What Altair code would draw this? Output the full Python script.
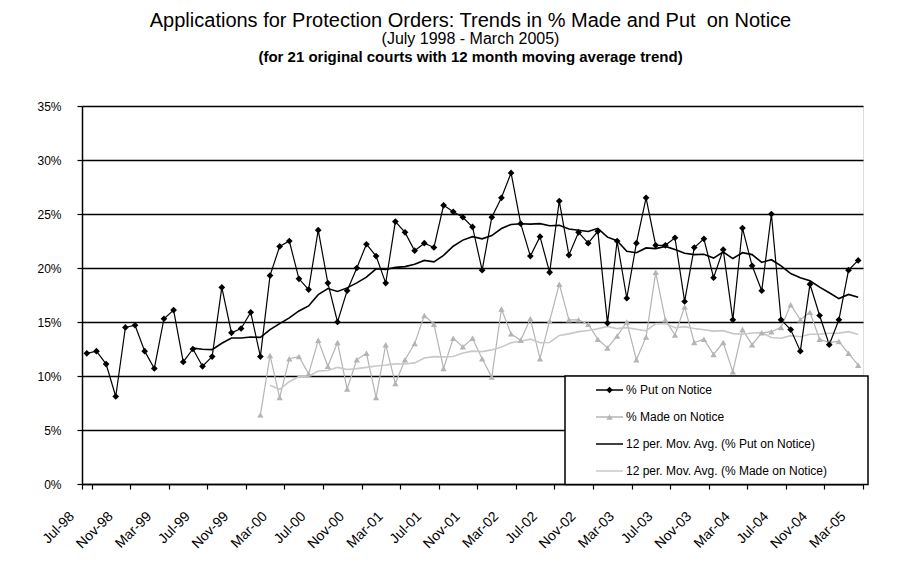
import altair as alt
import pandas as pd

# ---- data -------------------------------------------------------------
months = list(pd.date_range("1998-07-01", periods=81, freq="MS").strftime("%b-%y"))

put_on_notice = [
    12.1, 12.3, 11.1, 8.1, 14.5, 14.7, 12.3, 10.7, 15.3, 16.1, 11.3, 12.5,
    10.9, 11.8, 18.2, 14.0, 14.4, 15.9, 11.8, 19.3, 22.0, 22.5, 19.0, 18.0,
    23.5, 18.6, 15.0, 17.9, 20.0, 22.2, 21.1, 18.6, 24.3, 23.3, 21.6, 22.3,
    21.9, 25.8, 25.2, 24.7, 23.8, 19.8, 24.7, 26.5, 28.8, 24.1, 21.1, 22.9,
    19.6, 26.2, 21.2, 23.3, 22.3, 23.4, 14.9, 22.5, 17.2, 22.3, 26.5, 22.1,
    22.1, 22.8, 16.9, 21.9, 22.7, 19.1, 21.7, 15.2, 23.7, 20.2, 17.9, 25.0,
    15.2, 14.3, 12.3, 18.5, 15.6, 12.9, 15.2, 19.8, 20.7,
]

made_on_notice = [None] * 18 + [
    6.4, 11.9, 8.0, 11.6, 11.8, 10.2,
    13.3, 10.9, 13.1, 8.8, 11.5, 12.1, 8.0, 12.9, 9.3, 11.5, 13.0, 15.6,
    14.8, 10.7, 13.5, 12.7, 13.5, 11.6, 9.9, 16.2, 13.9, 13.3, 15.3, 11.6,
    15.1, 18.5, 15.2, 15.2, 14.8, 13.4, 12.6, 13.7, 15.0, 11.5, 13.6, 19.6,
    15.2, 13.8, 16.4, 13.1, 13.4, 12.0, 13.1, 10.4, 14.3, 12.9, 14.0, 14.1,
    14.5, 16.6, 15.2, 15.9, 13.4, 13.1, 13.2, 12.1, 11.0,
]

y_ticks = [0, 0.05, 0.10, 0.15, 0.20, 0.25, 0.30, 0.35]

legend_labels = [
    "% Put on Notice",
    "% Made on Notice",
    "12 per. Mov. Avg. (% Put on Notice)",
    "12 per. Mov. Avg. (% Made on Notice)",
]

title_lines = [
    "Applications for Protection Orders: Trends in % Made and Put\u00a0 on Notice",
    "(July 1998 - March 2005)",
    "(for 21 original courts with 12 month moving average trend)",
]

df = pd.DataFrame({
    "idx": list(range(len(months))),
    "month": months,
    "put": [v / 100 for v in put_on_notice],
    "made": [None if v is None else v / 100 for v in made_on_notice],
})

legend_df = pd.DataFrame({"row": [0, 1, 2, 3], "label": legend_labels})

# ---- styles -----------------------------------------------------------
FONT = "Liberation Sans"
BLACK = "#000000"
GREY = "#b4b4b4"
GREY_MA = "#c8c8c8"
W, H = 781, 378

x_enc = alt.X(
    "month:N",
    sort=months,
    scale=alt.Scale(type="band", domain=months, paddingInner=0, paddingOuter=0),
    axis=alt.Axis(
        title=None,
        values=months[::4],
        tickBand="extent",
        labelAngle=-45,
        labelAlign="right",
        labelBaseline="top",
        labelFont=FONT,
        labelFontSize=14,
        labelColor="black",
        labelPadding=20,
        labelOffset=-20,
        labelBound=False,
        domainColor="black",
        domainWidth=1.5,
        tickColor="black",
        tickWidth=1.2,
        tickSize=5,
        grid=False,
    ),
)

y_enc = alt.Y(
    "put:Q",
    scale=alt.Scale(domain=[0, 0.35], nice=False, zero=True),
    axis=alt.Axis(
        title=None,
        values=y_ticks,
        format=".0%",
        labelFont=FONT,
        labelFontSize=12,
        labelColor="black",
        labelPadding=16,
        tickSize=5,
        tickColor="black",
        tickWidth=1.2,
        domainColor="black",
        domainWidth=1.5,
        grid=True,
        gridColor="black",
        gridWidth=1.3,
        gridOpacity=1,
    ),
)

y_scale = alt.Scale(domain=[0, 0.35], nice=False, zero=True)

base = alt.Chart(df)

put_line = base.mark_line(color=BLACK, strokeWidth=1.2).encode(x=x_enc, y=y_enc)
put_pts = base.mark_point(shape="diamond", filled=True, color=BLACK, size=45, opacity=1).encode(
    x=x_enc, y=alt.Y("put:Q", scale=y_scale)
)

made_base = base.transform_filter("isValid(datum.made)")
made_line = made_base.mark_line(color=GREY, strokeWidth=1.2).encode(
    x=x_enc, y=alt.Y("made:Q", scale=y_scale)
)
made_pts = made_base.mark_point(shape="triangle-up", filled=True, color=GREY, size=40, opacity=1).encode(
    x=x_enc, y=alt.Y("made:Q", scale=y_scale)
)

put_ma = base.transform_window(
    ma="mean(put)", n="count()", frame=[-11, 0], sort=[alt.SortField("idx")]
).transform_filter("datum.n == 12").mark_line(color=BLACK, strokeWidth=1.6).encode(
    x=x_enc, y=alt.Y("ma:Q", scale=y_scale)
)

made_ma = base.transform_window(
    ma="mean(made)", nv="valid(made)", frame=[-11, 0], sort=[alt.SortField("idx")]
).transform_filter("datum.nv >= 2").mark_line(color=GREY_MA, strokeWidth=1.6).encode(
    x=x_enc, y=alt.Y("ma:Q", scale=y_scale)
)

data_layer = alt.layer(made_line, made_ma, put_ma, put_line, made_pts, put_pts)

# ---- legend (drawn inside plot like the Excel original) ---------------
box = alt.Chart(pd.DataFrame({"a": [0]})).mark_rect(
    fill="white", stroke="black", strokeWidth=1.5
).encode(x=alt.value(483), x2=alt.value(786), y=alt.value(270), y2=alt.value(378.5))

ly = alt.Y("row:Q", scale=alt.Scale(domain=[0, 3], range=[284, 365]), axis=None)
lcolor = alt.Color("label:N", scale=alt.Scale(domain=legend_labels,
                                              range=[BLACK, GREY, BLACK, GREY_MA]), legend=None)
lbase = alt.Chart(legend_df)
leg_rules = lbase.mark_rule(strokeWidth=1.5).encode(
    x=alt.value(514), x2=alt.value(541), y=ly, color=lcolor
)
leg_diamond = lbase.transform_filter("datum.row == 0").mark_point(
    shape="diamond", filled=True, size=45, opacity=1, color=BLACK
).encode(x=alt.value(527.5), y=ly)
leg_tri = lbase.transform_filter("datum.row == 1").mark_point(
    shape="triangle-up", filled=True, size=40, opacity=1, color=GREY
).encode(x=alt.value(527.5), y=ly)
leg_text = lbase.mark_text(align="left", baseline="middle", font=FONT, fontSize=12, color="black").encode(
    x=alt.value(544), y=ly, text="label:N"
)

# title block (three lines with different sizes, as in the original)
tdf = pd.DataFrame({"t": title_lines})
tline1 = alt.Chart(tdf).transform_filter(alt.datum.t == title_lines[0]).mark_text(
    align="center", baseline="middle", font=FONT, fontSize=20, color="black"
).encode(x=alt.value(W / 2 - 2), y=alt.value(-85), text="t:N")
tline2 = alt.Chart(tdf).transform_filter(alt.datum.t == title_lines[1]).mark_text(
    align="center", baseline="middle", font=FONT, fontSize=16, color="black"
).encode(x=alt.value(W / 2 - 2), y=alt.value(-67), text="t:N")
tline3 = alt.Chart(tdf).transform_filter(alt.datum.t == title_lines[2]).mark_text(
    align="center", baseline="middle", font=FONT, fontSize=15, fontWeight="bold", color="black"
).encode(x=alt.value(W / 2 - 2), y=alt.value(-49), text="t:N")

legend_layer = alt.layer(box, leg_rules, leg_diamond, leg_tri, leg_text, tline1, tline2, tline3)

chart = alt.layer(data_layer, legend_layer).resolve_scale(
    x="independent", y="independent", color="independent"
).properties(
    width=W,
    height=H,
    autosize=alt.AutoSizeParams(type="none"),
    padding={"left": 74, "top": 98, "right": 36, "bottom": 76},
).configure_view(stroke="black", strokeWidth=1.3).configure(background="white")

chart.save("out.html", embed_options={"renderer": "svg", "actions": False})
